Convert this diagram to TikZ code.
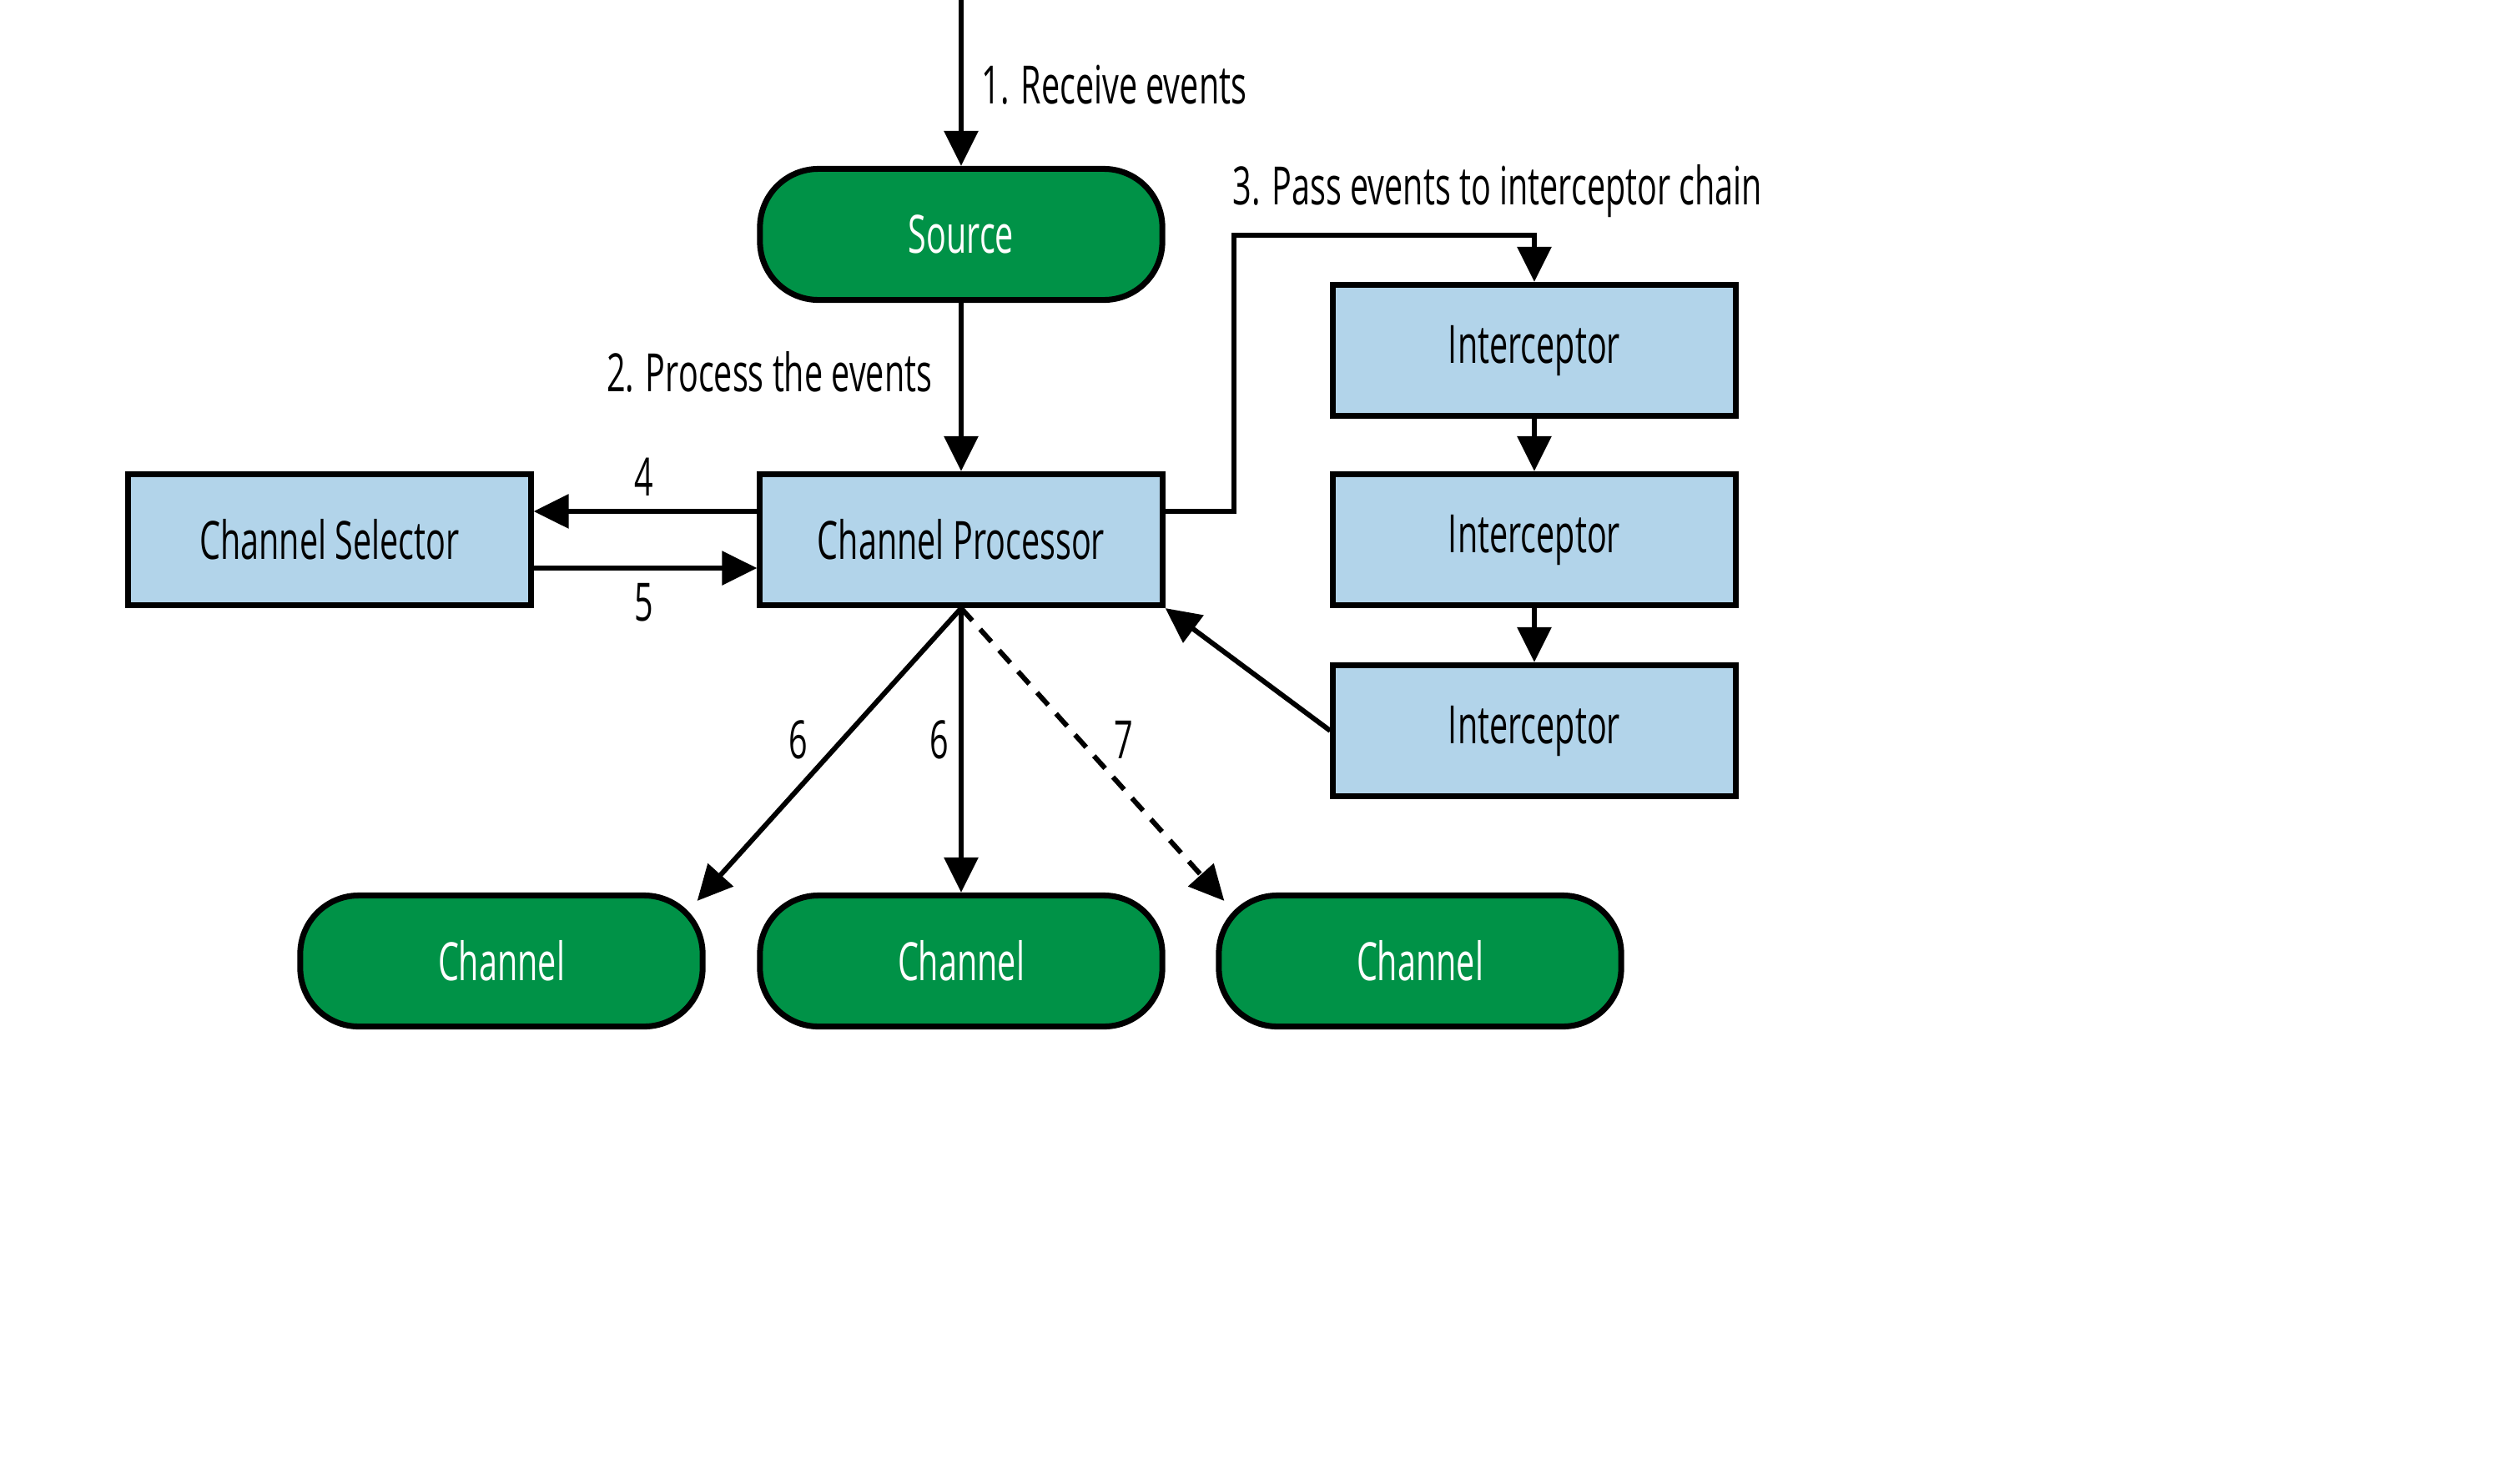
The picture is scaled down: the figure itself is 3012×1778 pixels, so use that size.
\documentclass[tikz,border=0pt]{standalone}
\usepackage{fontspec}
\setmainfont{Open Sans}[FakeStretch=0.625]
\usepackage{tikz}
\usetikzlibrary{arrows.meta,calc}
\usetikzlibrary{positioning}
\definecolor{flumegreen}{RGB}{0,146,71}
\definecolor{flumeblue}{RGB}{178,212,234}
\tikzstyle{blk}=[rectangle,draw=black,line width=2pt,fill=flumeblue,
                minimum width=4.82cm,minimum height=1.57cm,inner sep=0]
\tikzstyle{pill}=[blk,fill=flumegreen,text=white,rounded corners=0.7cm]
\tikzstyle{arr}=[->,>={Triangle[length=0.42cm,width=0.4cm]},line width=1.7pt]
\tikzstyle{lbl}=[inner sep=0]

\begin{document}
\begin{tikzpicture}[x=0.01cm,y=-0.01cm,font=\fontsize{18}{21}\selectfont]
\useasboundingbox (0,0) rectangle (3012,1778);
\node[pill] (source) at (1152,281) {Source};
\node[blk] (proc) at (1152,647) {Channel Processor};
\node[blk] (sel) at (395,647) {Channel Selector};
\node[blk] (int1) at (1839,420) {Interceptor};
\node[blk] (int2) at (1839,647) {Interceptor};
\node[blk] (int3) at (1839,876) {Interceptor};
\node[pill] (ch1) at (601,1152) {Channel};
\node[pill] (ch2) at (1152,1152) {Channel};
\node[pill] (ch3) at (1702,1152) {Channel};
\coordinate (in) at (1152,0);
\coordinate (bend) at (1479,282);
% step 1 and 2
\draw[arr] (in) -- (source);
\draw[arr] (source) -- (proc);
\node at (1176,102)[anchor=west,lbl]{1. Receive events};
\node at (1118,446)[anchor=east,lbl]{2. Process the events};
% interceptor chain
\draw[arr] ([yshift=0.34cm]proc.east) -| (bend) -| (int1.north);
\node at (1477,229)[anchor=west,lbl]{3. Pass events to interceptor chain};
\draw[arr] (int1) -- (int2);
\draw[arr] (int2) -- (int3);
\draw[arr] (int3.west) -- (proc.south east);
% selector
\draw[arr] ([yshift=0.34cm]proc.west) -- ([yshift=0.34cm]sel.east);
\draw[arr] ([yshift=-0.34cm]sel.east) -- ([yshift=-0.34cm]proc.west);
\node at (772,572)[lbl]{4};
\node at (772,722)[lbl]{5};
% channels
\draw[arr] (proc.south) -- ([xshift=-0.1cm,yshift=-0.1cm]ch1.north east);
\draw[arr] (proc.south) -- (ch2.north);
\draw[arr,dash pattern=on 0.2cm off 0.14cm] (proc.south) -- ([xshift=0.1cm,yshift=-0.1cm]ch3.north west);
\node at (957,887)[lbl]{6};
\node at (1126,887)[lbl]{6};
\node at (1347,887)[lbl]{7};
\end{tikzpicture}
\end{document}
